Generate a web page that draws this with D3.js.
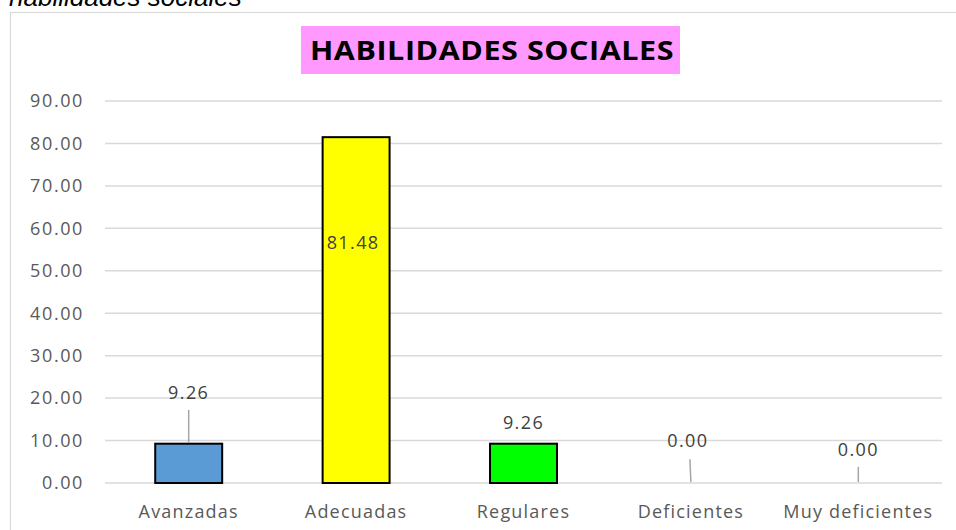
<!DOCTYPE html>
<html>
<head>
<meta charset="utf-8">
<script src="https://cdn.jsdelivr.net/npm/d3@7"></script>
<style>
  body { margin: 0; background: #fff; }
  svg { display: block; }
</style>
</head>
<body>
<svg id="chart" width="956" height="530"></svg>
<script>
// data
const categories = ["Avanzadas", "Adecuadas", "Regulares", "Deficientes", "Muy deficientes"];
const values = [9.26, 81.48, 9.26, 0.0, 0.0];
const barColors = ["#5b9bd5", "#ffff00", "#00ff00", "#ffffff", "#ffffff"];
const yTicks = [0, 10, 20, 30, 40, 50, 60, 70, 80, 90];
// where excel dragged the data labels to (in value units)
const labelAt = [21.2, 56.6, 14.2, 9.9, 7.8];
const labelShift = [0, -3, 0, -3, 0];
const leaderFrom = [17.2, null, null, 5.6, 3.8];

const svg = d3.select("#chart");
const width = 956;
const height = 530;
const margin = { t: 101, r: 14, b: 47, l: 105 };
const font = "Open Sans, Liberation Sans, sans-serif";

// caption cut off at the top
svg.append("text")
  .attr("x", 9)
  .attr("y", 6)
  .attr("font-family", "Liberation Sans, Arial, sans-serif")
  .attr("font-style", "italic")
  .attr("font-size", 26)
  .attr("fill", "#000")
  .text("habilidades sociales");

// chart area frame
svg.append("rect")
  .attr("x", 10.5)
  .attr("y", 12.5)
  .attr("width", 960)
  .attr("height", 540)
  .attr("fill", "#fff")
  .attr("stroke", "#d9d9d9")
  .attr("stroke-width", 1.2);

const x = d3.scaleBand()
  .domain(categories)
  .range([margin.l, width - margin.r])
  .paddingInner(0.6)
  .paddingOuter(0.3);

const y = d3.scaleLinear()
  .domain([0, 90])
  .range([height - margin.b, margin.t]);

// title box
const title = svg.append("g");
title.append("rect")
  .attr("x", 301)
  .attr("y", 26)
  .attr("width", 379)
  .attr("height", 48)
  .attr("fill", "#ff99ff");
title.append("text")
  .attr("transform", "translate(492,60) scale(1.15,1)")
  .attr("text-anchor", "middle")
  .attr("font-family", font)
  .attr("font-weight", "bold")
  .attr("font-size", 26.5)
  .attr("letter-spacing", 0.5)
  .attr("fill", "#000")
  .text("HABILIDADES SOCIALES");

// gridlines
svg.append("g")
  .selectAll("line")
  .data(yTicks)
  .join("line")
  .attr("x1", margin.l)
  .attr("x2", width - margin.r)
  .attr("y1", (d) => y(d))
  .attr("y2", (d) => y(d))
  .attr("stroke", "#d9d9d9")
  .attr("stroke-width", 1.5);

// y axis labels
svg.append("g")
  .selectAll("text")
  .data(yTicks)
  .join("text")
  .attr("x", 84)
  .attr("y", (d) => y(d))
  .attr("dy", "0.35em")
  .attr("text-anchor", "end")
  .attr("font-family", font)
  .attr("font-size", 18)
  .attr("letter-spacing", 1.6)
  .attr("fill", "#595959")
  .text((d) => d.toFixed(2));

// bars
svg.append("g")
  .selectAll("rect")
  .data(values)
  .join("rect")
  .attr("x", (d, i) => x(categories[i]))
  .attr("y", (d) => y(d))
  .attr("width", x.bandwidth())
  .attr("height", (d) => y(0) - y(d))
  .attr("fill", (d, i) => barColors[i])
  .attr("stroke", "#000")
  .attr("stroke-width", 2)
  .attr("display", (d) => (d > 0 ? null : "none"));

// leader lines
svg.append("g")
  .selectAll("line")
  .data(values.map((v, i) => ({ v, i })).filter((d) => leaderFrom[d.i] !== null))
  .join("line")
  .attr("x1", (d) => x(categories[d.i]) + x.bandwidth() / 2 + (d.i === 3 ? -1 : 0))
  .attr("x2", (d) => x(categories[d.i]) + x.bandwidth() / 2)
  .attr("y1", (d) => y(leaderFrom[d.i]))
  .attr("y2", (d) => y(d.v) - 1)
  .attr("stroke", "#a6a6a6")
  .attr("stroke-width", 1.5);

// data labels
svg.append("g")
  .selectAll("text")
  .data(values)
  .join("text")
  .attr("x", (d, i) => x(categories[i]) + x.bandwidth() / 2 + labelShift[i])
  .attr("y", (d, i) => y(labelAt[i]))
  .attr("dy", "0.35em")
  .attr("text-anchor", "middle")
  .attr("font-family", font)
  .attr("font-size", 18)
  .attr("letter-spacing", 1.4)
  .attr("fill", "#404040")
  .text((d) => d.toFixed(2));

// category labels
svg.append("g")
  .selectAll("text")
  .data(categories)
  .join("text")
  .attr("x", (d) => x(d) + x.bandwidth() / 2)
  .attr("y", 512)
  .attr("dy", "0.35em")
  .attr("text-anchor", "middle")
  .attr("font-family", font)
  .attr("font-size", 18)
  .attr("letter-spacing", 1.2)
  .attr("fill", "#595959")
  .text((d) => d);
</script>
</body>
</html>
